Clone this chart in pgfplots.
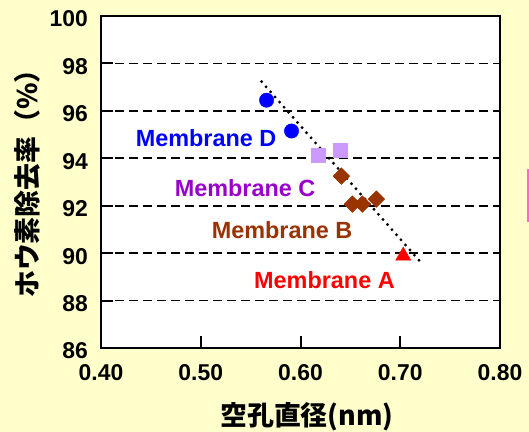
\documentclass[border=0pt]{standalone}
\usepackage{fontspec}
\setmainfont{Liberation Sans}
\newfontfamily\cjk{Noto Sans CJK JP}
\usepackage{pgfplots}
\pgfplotsset{compat=1.18}
\definecolor{bg}{HTML}{FFFFCC}
\definecolor{pinkline}{HTML}{FF66CC}
\definecolor{memD}{HTML}{0000FF}
\definecolor{memC}{HTML}{9900CC}
\definecolor{memCfill}{HTML}{CC99FF}
\definecolor{memB}{HTML}{993300}
\definecolor{memA}{HTML}{FF0000}
\begin{document}
\begin{tikzpicture}
\clip (0,0) rectangle (529bp,432bp);
\fill[bg] (0,0) rectangle (529bp,432bp);
\draw[color=pinkline, line width=1.2bp] (528bp,210bp) -- (528bp,263bp);
\begin{axis}[
  at={(101bp,84bp)}, anchor=south west,
  scale only axis, width=399bp, height=332bp,
  xmin=0.4, xmax=0.8, ymin=86, ymax=100,
  xtick={0.4,0.5,0.6,0.7,0.8},
  xticklabels={0.40,0.50,0.60,0.70,0.80},
  ytick={86,88,90,92,94,96,98,100},
  yticklabels={86,88,90,92,94,96,98,100},
  tick align=inside,
  xtick pos=bottom, ytick pos=left,
  major tick length=12bp,
  tick style={line width=2bp, black},
  axis line style={line width=2.5bp, black},
  axis background/.style={fill=white},
  ymajorgrids,
  grid style={black, line width=1.6bp, dash pattern=on 9bp off 5bp},
  /pgf/number format/assume math mode=true,
  ticklabel style={font=\bfseries\fontsize{23}{23}\selectfont, inner sep=0pt},
  xticklabel style={anchor=center, yshift=-25bp},
  yticklabel style={anchor=east, xshift=-13bp, yshift=-3bp},
  xlabel={\cjk\bfseries\fontsize{27}{27}\selectfont 空孔直径(nm)},
  ylabel={\cjk\bfseries\fontsize{27}{27}\selectfont ホウ素除去率（\%）},
  xlabel style={at={(axis description cs:0.516,-0.208)}, anchor=center, inner sep=0pt},
  ylabel style={at={(axis description cs:-0.185,0.515)}, anchor=center, inner sep=0pt},
  clip=false,
]
\addplot[only marks, mark=*, mark size=7.2bp, color=memD] coordinates {(0.566,96.45) (0.591,95.15)};
\addplot[only marks, mark=square*, mark size=7bp, color=memCfill] coordinates {(0.618,94.14) (0.640,94.32)};
\addplot[only marks, mark=square*, mark size=5.9bp, mark options={rotate=45}, color=memB] coordinates {(0.641,93.25) (0.652,92.07) (0.662,92.07) (0.676,92.28)};
\addplot[only marks, mark=triangle*, mark size=8.7bp, color=memA] coordinates {(0.703,89.89)};
\addplot[black, line width=3.2bp, line cap=round, dash pattern=on 0bp off 6.8bp] coordinates {(0.561,97.23) (0.720,89.64)};
\node[text=memD, font=\bfseries\fontsize{23.5}{23.5}\selectfont] at (axis cs:0.5053,94.85) {Membrane D};
\node[text=memC, font=\bfseries\fontsize{23.5}{23.5}\selectfont] at (axis cs:0.5444,92.75) {Membrane C};
\node[text=memB, font=\bfseries\fontsize{23.5}{23.5}\selectfont] at (axis cs:0.5815,90.97) {Membrane B};
\node[text=memA, font=\bfseries\fontsize{23.5}{23.5}\selectfont] at (axis cs:0.624,88.87) {Membrane A};
\end{axis}
\end{tikzpicture}
\end{document}
